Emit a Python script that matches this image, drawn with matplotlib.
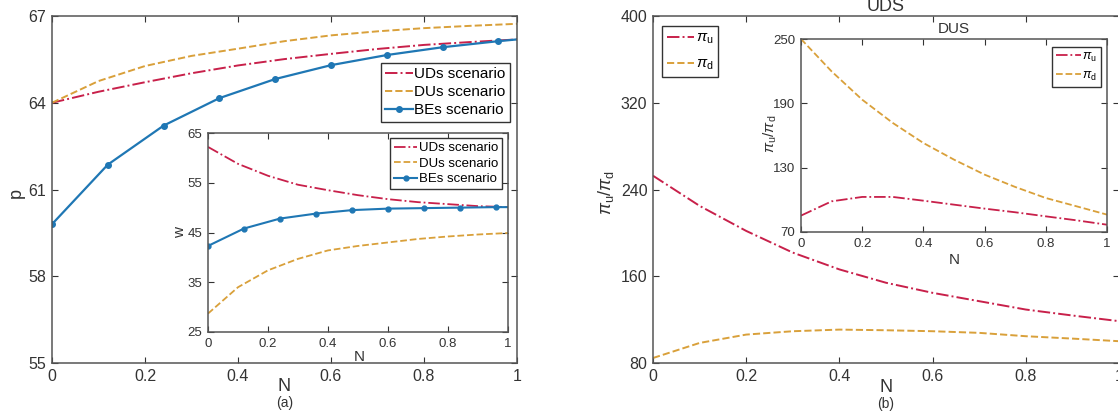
import numpy as np
import matplotlib
matplotlib.use('Agg')
import matplotlib.pyplot as plt

plt.rcParams['font.family'] = ['Liberation Sans', 'DejaVu Sans']
plt.rcParams['mathtext.fontset'] = 'custom'
plt.rcParams['mathtext.rm'] = 'Liberation Sans'
plt.rcParams['mathtext.it'] = 'Liberation Sans:italic'

# ---- data ----
N = [0, 0.1, 0.2, 0.3, 0.4, 0.5, 0.6, 0.7, 0.8, 0.9, 1.0]
N_be = [0, 0.12, 0.24, 0.36, 0.48, 0.6, 0.72, 0.84, 0.96, 1.0]

# (a) main: price p
p_uds = [64.0, 64.38, 64.71, 65.02, 65.29, 65.51, 65.69, 65.86, 66.0, 66.1, 66.19]
p_dus = [64.0, 64.75, 65.27, 65.62, 65.87, 66.13, 66.33, 66.47, 66.58, 66.66, 66.73]
p_bes = [59.80, 61.86, 63.21, 64.16, 64.82, 65.30, 65.65, 65.92, 66.13, 66.19]

# (a) inset: wholesale price w
w_uds = [62.2, 58.8, 56.4, 54.6, 53.5, 52.5, 51.7, 51.1, 50.7, 50.3, 50.1]
w_dus = [28.7, 34.0, 37.4, 39.7, 41.4, 42.3, 43.0, 43.7, 44.2, 44.6, 44.9]
w_bes = [42.3, 45.8, 47.8, 48.8, 49.5, 49.8, 49.9, 50.0, 50.1, 50.1]

# (b) main: UDS profits
uds_pu = [252.7, 224.9, 201.8, 181.8, 166.3, 154.0, 144.7, 137.0, 129.3, 123.8, 118.6]
uds_pd = [84.6, 98.5, 106.2, 109.3, 110.8, 110.2, 109.3, 107.8, 104.7, 102.5, 100.1]

# (b) inset: DUS profits
dus_pu = [85.3, 98.6, 102.7, 102.7, 99.2, 95.5, 91.8, 88.4, 84.6, 80.9, 76.8]
dus_pd = [250.0, 219.8, 193.4, 171.7, 153.0, 137.5, 123.5, 112.0, 101.7, 94.0, 86.2]

RED = '#C8204A'
GOLD = '#D9A03A'
BLUE = '#1F77B4'
SPINE = '#555555'
TXT = '#333333'

W, H = 1118, 416
fig = plt.figure(figsize=(W / 100, H / 100), dpi=100)


def px_axes(x0, y0, x1, y1):
    # pixel box (top-left origin) -> figure axes
    return fig.add_axes([x0 / W, 1 - y1 / H, (x1 - x0) / W, (y1 - y0) / H])


def style(ax, fs):
    ax.tick_params(direction='in', top=True, right=True, length=4,
                   width=0.8, labelsize=fs, colors=TXT, pad=4)
    for s in ax.spines.values():
        s.set_color(SPINE)
        s.set_linewidth(1.1)


def labels(ax, xl, yl, fs, xpos, ypos):
    ax.set_xlabel(xl, fontsize=fs, color=TXT)
    ax.xaxis.set_label_coords(*xpos)
    ax.xaxis.label.set_verticalalignment('center')
    ax.set_ylabel(yl, fontsize=fs, color=TXT)
    ax.yaxis.set_label_coords(*ypos)
    ax.yaxis.label.set_verticalalignment('center')


def legend(ax, fs, loc, anchor, spacing, hl=1.8):
    lg = ax.legend(loc=loc, bbox_to_anchor=anchor, fontsize=fs,
                   fancybox=False, edgecolor=TXT, framealpha=1,
                   handlelength=hl, handletextpad=0.1, labelspacing=spacing,
                   borderpad=0.3, borderaxespad=0)
    lg.get_frame().set_linewidth(1.0)
    return lg


ticks01 = [0, 0.2, 0.4, 0.6, 0.8, 1]
tick01_labels = ['0', '0.2', '0.4', '0.6', '0.8', '1']

# ---------- (a) ----------
ax1 = px_axes(52, 16, 517, 363)
ax1.plot(N, p_uds, linestyle='-.', color=RED, lw=1.4, label='UDs scenario')
ax1.plot(N, p_dus, linestyle='--', color=GOLD, lw=1.4, label='DUs scenario')
ax1.plot(N_be, p_bes, '-', color=BLUE, lw=1.6, marker='o', ms=4,
         markevery=list(range(9)), label='BEs scenario')
ax1.set_xlim(0, 1)
ax1.set_ylim(55, 67)
ax1.set_xticks(ticks01)
ax1.set_xticklabels(tick01_labels)
ax1.set_yticks([55, 58, 61, 64, 67])
style(ax1, 11.5)
labels(ax1, 'N', 'p', 13, (0.5, -0.069), (-0.077, 0.49))
legend(ax1, 11, 'upper right', (0.985, 0.865), 0.25)
fig.text((52 + 517) / 2 / W, 1 - 403 / H, '(a)', ha='center', va='center',
         fontsize=10, color=TXT)

ax1i = px_axes(208, 133, 508, 332)
ax1i.plot(N, w_uds, linestyle='-.', color=RED, lw=1.3, label='UDs scenario')
ax1i.plot(N, w_dus, linestyle='--', color=GOLD, lw=1.3, label='DUs scenario')
ax1i.plot(N_be, w_bes, '-', color=BLUE, lw=1.5, marker='o', ms=3.5,
          markevery=list(range(9)), label='BEs scenario')
ax1i.set_xlim(0, 1)
ax1i.set_ylim(25, 65)
ax1i.set_xticks(ticks01)
ax1i.set_xticklabels(tick01_labels)
ax1i.set_yticks([25, 35, 45, 55, 65])
style(ax1i, 9.5)
labels(ax1i, 'N', 'w', 11, (0.503, -0.125), (-0.093, 0.5))
legend(ax1i, 9.5, 'upper right', (0.98, 0.975), 0.25)

# ---------- (b) ----------
ax2 = px_axes(653, 16, 1119, 363)
ax2.plot(N, uds_pu, linestyle='-.', color=RED, lw=1.4, label=r'$\pi_{\rm u}$')
ax2.plot(N, uds_pd, linestyle='--', color=GOLD, lw=1.4, label=r'$\pi_{\rm d}$')
ax2.set_xlim(0, 1)
ax2.set_ylim(80, 400)
ax2.set_xticks(ticks01)
ax2.set_xticklabels(tick01_labels)
ax2.set_yticks([80, 160, 240, 320, 400])
style(ax2, 11.5)
labels(ax2, 'N', r'$\pi_{\rm u}/\pi_{\rm d}$', 13, (0.5, -0.072), (-0.101, 0.49))
ax2.text(0.5, 1.004, 'UDS', transform=ax2.transAxes, ha='center',
         va='bottom', fontsize=13, color=TXT)
lg2 = legend(ax2, 11, 'upper left', (0.02, 0.97), 0.7, hl=1.8)
fig.text((653 + 1119) / 2 / W, 1 - 404 / H, '(b)', ha='center', va='center',
         fontsize=10, color=TXT)

ax2i = px_axes(801, 39, 1107, 232)
ax2i.plot(N, dus_pu, linestyle='-.', color=RED, lw=1.3, label=r'$\pi_{\rm u}$')
ax2i.plot(N, dus_pd, linestyle='--', color=GOLD, lw=1.3, label=r'$\pi_{\rm d}$')
ax2i.set_xlim(0, 1)
ax2i.set_ylim(70, 250)
ax2i.set_xticks(ticks01)
ax2i.set_xticklabels(tick01_labels)
ax2i.set_yticks([70, 130, 190, 250])
style(ax2i, 9.5)
labels(ax2i, 'N', r'$\pi_{\rm u}/\pi_{\rm d}$', 11, (0.5, -0.145), (-0.1, 0.51))
ax2i.text(0.5, 1.015, 'DUS', transform=ax2i.transAxes, ha='center',
          va='bottom', fontsize=11, color=TXT)
legend(ax2i, 9, 'upper right', (0.98, 0.96), 0.5, hl=2.0)

fig.savefig('out.png', dpi=100)
